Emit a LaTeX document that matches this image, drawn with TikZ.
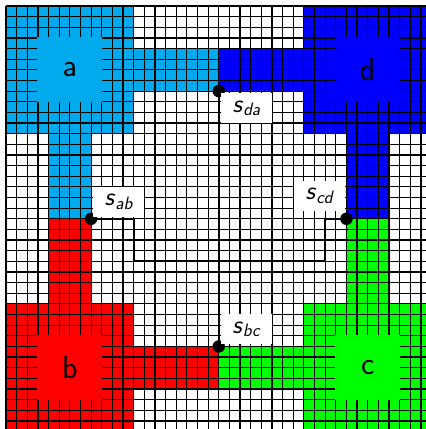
\documentclass[tikz,border=0pt]{standalone}
\definecolor{colA}{RGB}{0,170,236}
\definecolor{colB}{RGB}{255,0,0}
\definecolor{colC}{RGB}{0,255,0}
\definecolor{colD}{RGB}{0,0,255}
\newcommand\slab[1]{\textsl{s}\raisebox{-3.5pt}{\fontsize{18}{18}\selectfont\textsl{#1}}}
\tikzset{
  gridline/.style={line width=1.2pt,black},
  sq/.style={rectangle,minimum size=64.9pt,inner sep=0pt,font=\sffamily\fontsize{32}{32}\selectfont},
  conn/.style={line width=1.9pt,black},
  lab/.style={fill=white,minimum width=51pt,minimum height=30pt,inner sep=0pt,font=\sffamily\fontsize{26}{26}\selectfont},
  dotmark/.style={circle,fill=black,minimum size=12.5pt,inner sep=0pt}
}
\begin{document}
\begin{tikzpicture}[x=10.64pt,y=-10.64pt]
\useasboundingbox (-0.564,-0.564) rectangle (39.47,39.76);
\clip (-0.564,-0.564) rectangle (39.47,39.76);
% coloured regions
\fill[colA] (0,0) rectangle (12,12);
\fill[colA] (12,4) rectangle (20,8);
\fill[colA] (4,12) rectangle (8,20);
\fill[colD] (28,0) rectangle (40,12);
\fill[colD] (20,4) rectangle (28,8);
\fill[colD] (32,12) rectangle (36,20);
\fill[colB] (0,28) rectangle (12,40);
\fill[colB] (4,20) rectangle (8,28);
\fill[colB] (12,32) rectangle (20,36);
\fill[colC] (28,28) rectangle (40,40);
\fill[colC] (32,20) rectangle (36,28);
\fill[colC] (20,32) rectangle (28,36);
% grid
\foreach \i in {0,...,40} {
  \draw[gridline] (\i,0) -- (\i,40);
  \draw[gridline] (0,\i) -- (40,\i);
}
% squares
\node[sq,fill=colA] (a) at (6,6) {a};
\node[sq,fill=colD] (d) at (34,6) {d};
\node[sq,fill=colB] (b) at (6,34) {b};
\node[sq,fill=colC] (c) at (34,34) {c};
% separator points
\coordinate (sda) at (20,8);
\coordinate (sab) at (8,20);
\coordinate (scd) at (32,20);
\coordinate (sbc) at (20,32);
\draw[conn] (sda) -- (sbc);
\draw[conn] (sab) -| (12,24) -| (30,20) -- (scd);
\node[dotmark] (pda) at (sda) {};
\node[dotmark] (pab) at (sab) {};
\node[dotmark] (pcd) at (scd) {};
\node[dotmark] (pbc) at (sbc) {};
% labels
\node[lab,anchor=north west] (lda) at ([shift={(2pt,-2pt)}]sda) {\slab{da}};
\node[lab,anchor=south west] (lab) at ([shift={(2pt,2pt)}]sab) {\slab{ab}};
\node[lab,anchor=south east] (lcd) at ([shift={(-1pt,8pt)}]scd) {\slab{cd}};
\node[lab,anchor=south west] (lbc) at ([shift={(2pt,2pt)}]sbc) {\slab{bc}};
\end{tikzpicture}
\end{document}
